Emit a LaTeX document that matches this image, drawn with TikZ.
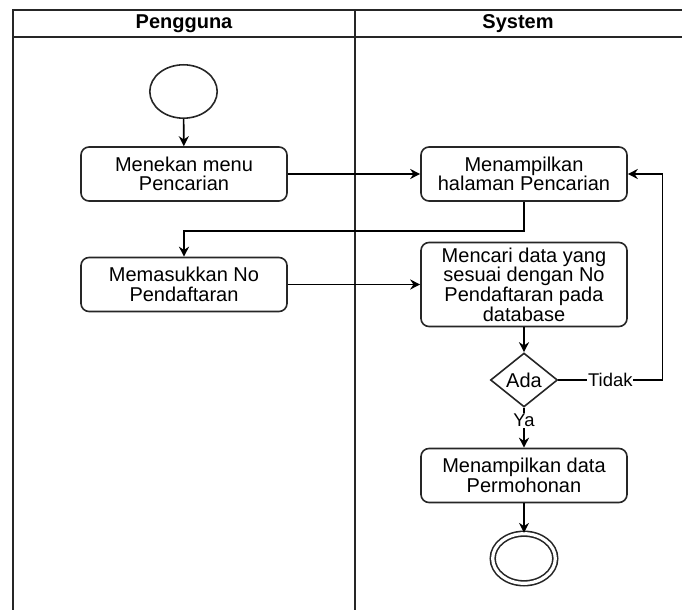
\documentclass[tikz,border=0pt]{standalone}
\usepackage{fontspec}
\setmainfont{Liberation Sans}
\usetikzlibrary{arrows.meta,shapes.geometric}

\begin{document}
\begin{tikzpicture}[x=0.5pt, y=-0.5pt, line width=0.8pt]
  \tikzset{
    lane/.style={draw=black!85, line width=0.9pt},
    head/.style={font=\fontsize{10}{12}\selectfont\bfseries},
    act/.style={draw=black!85, fill=white, rounded corners=4pt, align=center, minimum width=103pt, minimum height=27pt, inner sep=1pt, font=\fontsize{10}{9.8}\selectfont},
    cond/.style={diamond, draw=black!85, fill=white, aspect=1.24, minimum width=33.5pt, minimum height=27pt, inner sep=0pt, font=\fontsize{10}{12}\selectfont},
    startpt/.style={ellipse, draw=black!85, minimum width=33.7pt, minimum height=26.7pt, inner sep=0pt},
    endpt/.style={ellipse, draw=black!85, double, double distance=1.6pt, minimum width=31.3pt, minimum height=24.8pt, inner sep=0pt},
    flow/.style={-{Stealth[length=5pt, width=5pt]}, draw=black},
    guard/.style={fill=white, inner sep=0.5pt, font=\fontsize{9.2}{11}\selectfont}
  }
  \useasboundingbox (0,0) rectangle (682,610);

  % Swimlanes
  \draw[lane] (13,610) -- (13,10) -- (682,10);
  \draw[lane] (13,37) -- (682,37);
  \draw[lane] (355,10) -- (355,610);
  \node[head] (hUser) at (184,24) {Pengguna};
  \node[head] (hSys) at (518,24) {System};

  % Activities
  \node[startpt] (mulai) at (183.5,91.5) {};
  \node[act] (menekan) at (184,174) {Menekan menu\\Pencarian};
  \node[act] (tampil) at (524,174) {Menampilkan\\halaman Pencarian};
  \node[act] (masuk) at (184,284.5) {Memasukkan No\\Pendaftaran};
  \node[act, minimum height=42pt] (cari) at (524,284.5) {Mencari data yang\\sesuai dengan No\\Pendaftaran pada\\database};
  \node[cond] (ada) at (524,380) {Ada};
  \node[act] (hasil) at (524,475.5) {Menampilkan data\\Permohonan};
  \node[endpt] (selesai) at (524,558.5) {};

  % Flows
  \draw[flow] (mulai) -- (menekan);
  \draw[flow] (menekan) -- (tampil);
  \draw[flow] (tampil.south) -- ++(0,29) -| (masuk.north);
  \draw[flow] (masuk) -- (cari);
  \draw[flow] (cari) -- (ada);
  \draw[flow] (ada.east) -- node[guard] {Tidak} ++(104,0) |- (tampil.east);
  \draw[flow] (ada) -- node[guard, pos=0.32] {Ya} (hasil);
  \draw[flow] (hasil) -- (selesai);

\end{tikzpicture}
\end{document}
